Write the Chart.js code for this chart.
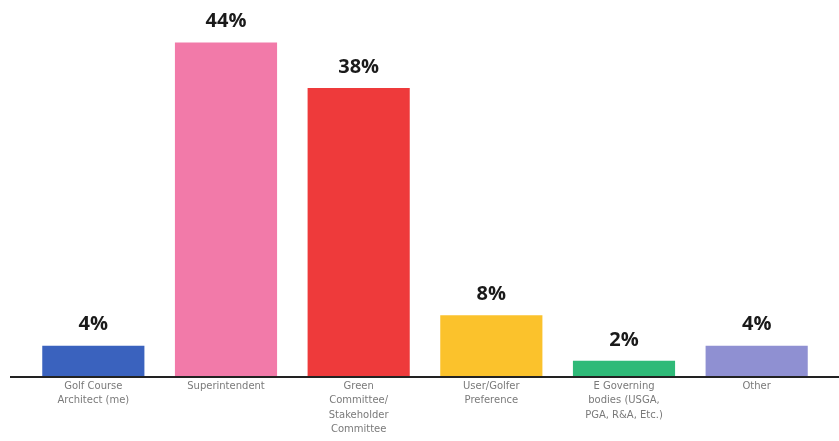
<!DOCTYPE html>
<html>
<head>
<meta charset="utf-8">
<script src="https://cdn.jsdelivr.net/npm/chart.js@4/dist/chart.umd.min.js"></script>
<style>
  html, body { margin: 0; padding: 0; background: #fff; }
  #wrap { width: 839px; height: 441px; position: relative; }
</style>
</head>
<body>
<div id="wrap"><canvas id="bieudo"></canvas></div>
<script>
// categories (multi-line tick labels)
var categories = [
    ['Golf Course', 'Architect (me)'],
    ['Superintendent'],
    ['Green', 'Committee/', 'Stakeholder', 'Committee'],
    ['User/Golfer', 'Preference'],
    ['E Governing', 'bodies (USGA,', 'PGA, R&A, Etc.)'],
    ['Other']
]
var percents = [4, 44, 38, 8, 2, 4]
var barColors = ['#3a62be', '#f27aa9', '#ee3a3b', '#fbc22c', '#2fba78', '#8f90d2']

// draws the value labels above bars and the long baseline
const labelsPlugin = {
    id: 'labelsPlugin',
    afterDatasetsDraw(chart){
        const ctx = chart.ctx
        const meta = chart.getDatasetMeta(0)
        ctx.save()
        ctx.font = 'bold 20px "Open Sans", sans-serif'
        ctx.fillStyle = '#1a1a1a'
        ctx.textAlign = 'center'
        ctx.textBaseline = 'middle'
        meta.data.forEach(function(bar, i){
            ctx.fillText(percents[i] + '%', bar.x, bar.y - 21)
        })
        // baseline
        const y = chart.chartArea.bottom + 1
        ctx.strokeStyle = '#222'
        ctx.lineWidth = 2
        ctx.beginPath()
        ctx.moveTo(10, y)
        ctx.lineTo(chart.width, y)
        ctx.stroke()
        ctx.restore()
    }
}

const ctx = document.getElementById('bieudo');
new Chart(ctx, {
    type: 'bar',
    data: {
        labels: categories,
        datasets: [{
            data: percents,
            backgroundColor: barColors,
            borderWidth: 0,
            categoryPercentage: 0.77,
            barPercentage: 1.0
        }]
    },
    options: {
        responsive: true,
        maintainAspectRatio: false,
        animation: false,
        layout: { padding: { left: 27, right: 16, top: 0, bottom: 1 } },
        plugins: {
            legend: { display: false },
            tooltip: { enabled: false }
        },
        scales: {
            x: {
                grid: { display: false, drawTicks: false },
                border: { display: false },
                ticks: {
                    color: '#7a7a7a',
                    padding: 3,
                    maxRotation: 0,
                    autoSkip: false,
                    font: { family: '"DejaVu Sans", sans-serif', size: 10, lineHeight: 1.45 }
                }
            },
            y: {
                display: false,
                beginAtZero: true,
                min: 0,
                max: 49.6
            }
        }
    },
    plugins: [labelsPlugin]
});
</script>
</body>
</html>
